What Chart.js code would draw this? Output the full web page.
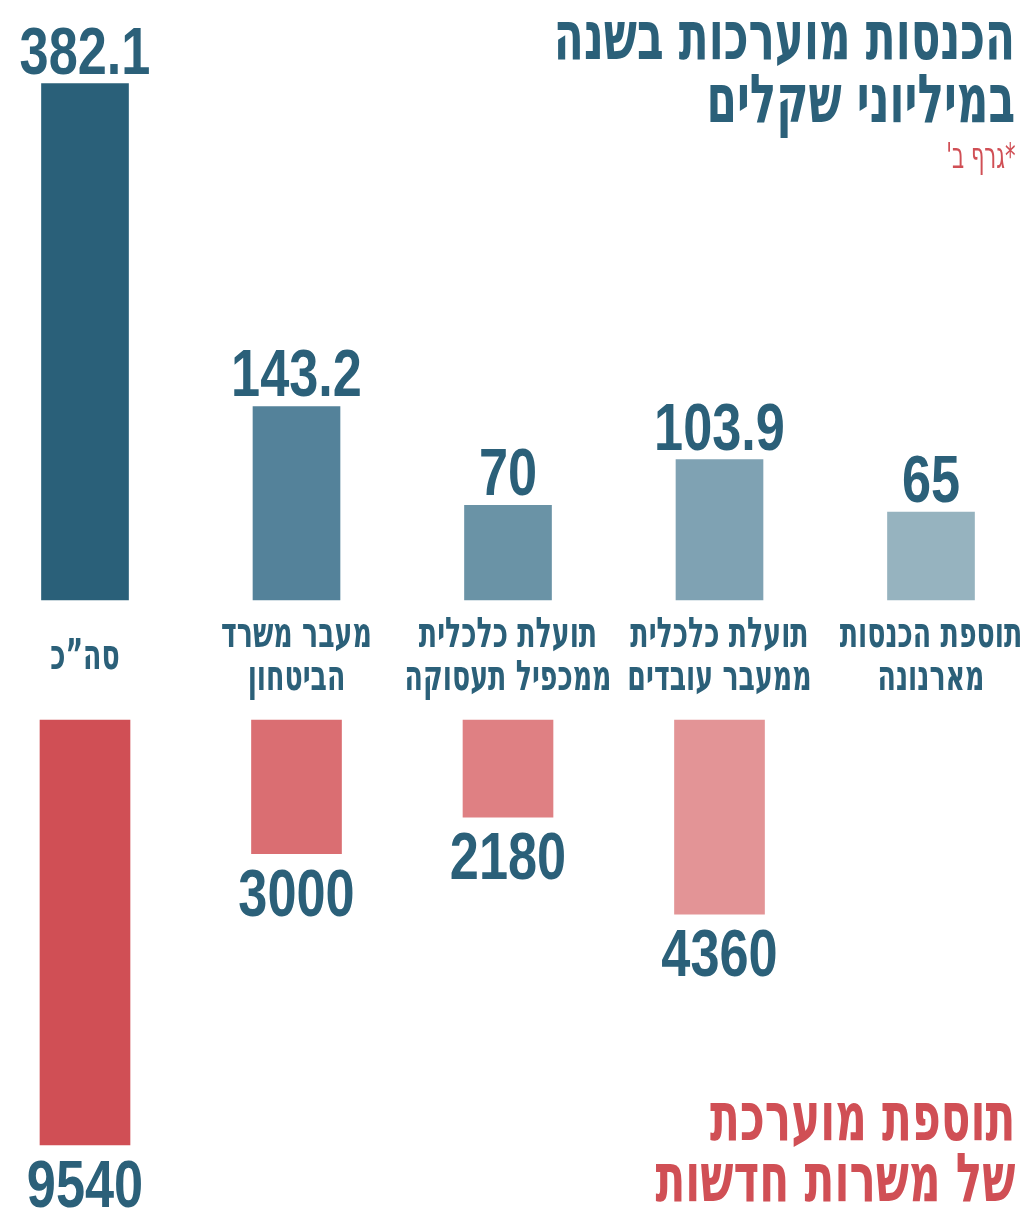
<!DOCTYPE html>
<html lang="he">
<head>
<meta charset="utf-8">
<script src="https://cdn.jsdelivr.net/npm/chart.js@4.4.1/dist/chart.umd.min.js"></script>
<style>
  body { margin: 0; background: #fff; width: 1020px; height: 1209px; overflow: hidden; position: relative; }
  #wrapTop { position: absolute; left: 0; top: 0; width: 1020px; height: 700px; }
  #wrapBottom { position: absolute; left: 0; top: 700px; width: 1020px; height: 510px; }
  .titulo { position: absolute; right: 5px; direction: rtl; text-align: right; font-family: "DejaVu Sans Condensed", "DejaVu Sans", sans-serif;
            font-weight: bold; transform: scaleX(0.715); transform-origin: right top; white-space: nowrap; }
</style>
</head>
<body>
<div id="wrapTop"><canvas id="chartIngresos"></canvas></div>
<div id="wrapBottom"><canvas id="chartEmpleos"></canvas></div>

<div class="titulo" style="top:4px; font-size:68px; line-height:63px; color:#2b6079;">הכנסות מוערכות בשנה<br>במיליוני שקלים</div>
<div class="titulo" style="top:136px; font-size:36px; line-height:40px; font-weight:normal; color:#d04f55; transform:scaleX(0.65);">*גרף ב'</div>
<div class="titulo" style="top:1086px; font-size:68px; line-height:61px; color:#d04f55;">תוספת מוערכת<br>של משרות חדשות</div>

<script>
const categorias = [
    ['סה”כ'],
    ['מעבר משרד', 'הביטחון'],
    ['תועלת כלכלית', 'ממכפיל תעסוקה'],
    ['תועלת כלכלית', 'ממעבר עובדים'],
    ['תוספת הכנסות', 'מארנונה']
];
const ingresos = [382.1, 143.2, 70, 103.9, 65];
const empleos = [9540, 3000, 2180, 4360, null];

const coloresAzul = ['#2a6079', '#54829a', '#6a93a6', '#7fa2b3', '#96b3bf'];
const coloresRojo = ['#d04f55', '#da6e72', '#df8083', '#e39496', '#ffffff'];
const azulTexto = '#2b6079';
const FUENTE_NUM = '"Liberation Sans", "DejaVu Sans", sans-serif';
const FUENTE_HEB = '"DejaVu Sans Condensed", "DejaVu Sans", sans-serif';

// texto angosto: se dibuja comprimido horizontalmente
function textoAngosto(ctx, txt, x, y, font, escala) {
    ctx.save();
    ctx.font = font;
    ctx.fillStyle = azulTexto;
    ctx.textAlign = 'center';
    ctx.translate(x, y);
    ctx.scale(escala, 1);
    ctx.fillText(txt, 0, 0);
    ctx.restore();
}

const etiquetasValor = {
    id: 'etiquetasValor',
    afterDatasetsDraw(chart, args, opts) {
        const ctx = chart.ctx;
        const meta = chart.getDatasetMeta(0);
        const datos = chart.data.datasets[0].data;
        const f = 'bold 67px ' + FUENTE_NUM;
        ctx.save();
        ctx.direction = 'ltr';
        meta.data.forEach((bar, i) => {
            if (datos[i] == null) return;
            if (opts.abajo) {
                ctx.textBaseline = 'top';
                textoAngosto(ctx, String(datos[i]), bar.x, bar.y + 10, f, 0.78);
            } else {
                ctx.textBaseline = 'alphabetic';
                textoAngosto(ctx, String(datos[i]), bar.x, bar.y - 10, f, 0.78);
            }
        });
        ctx.restore();
    }
};

const etiquetasCategoria = {
    id: 'etiquetasCategoria',
    afterDraw(chart, args, opts) {
        if (!opts.mostrar) return;
        const ctx = chart.ctx;
        const x = chart.scales.x;
        const f = 'bold 42px ' + FUENTE_HEB;
        ctx.save();
        ctx.direction = 'rtl';
        ctx.textBaseline = 'alphabetic';
        categorias.forEach((lineas, i) => {
            const cx = x.getPixelForValue(i);
            if (lineas.length === 1) {
                textoAngosto(ctx, lineas[0], cx, 669, f, 0.71);
            } else {
                textoAngosto(ctx, lineas[0], cx, 647, f, 0.71);
                textoAngosto(ctx, lineas[1], cx, 690, f, 0.71);
            }
        });
        ctx.restore();
    }
};

function opcionesBase(max, invertido, padding, mostrarCat, abajo) {
    return {
        responsive: true,
        maintainAspectRatio: false,
        animation: false,
        layout: { padding: padding },
        plugins: {
            legend: { display: false },
            tooltip: { enabled: false },
            etiquetasValor: { abajo: abajo },
            etiquetasCategoria: { mostrar: mostrarCat }
        },
        scales: {
            x: { display: false, offset: false },
            y: { display: false, min: 0, max: max, reverse: invertido }
        }
    };
}

// 1. Ingresos (barras hacia arriba)
new Chart(document.getElementById('chartIngresos'), {
    type: 'bar',
    data: {
        labels: categorias,
        datasets: [{ data: ingresos, backgroundColor: coloresAzul, barThickness: 87, clip: false }]
    },
    options: opcionesBase(444, false, { left: 85, right: 89, top: 0, bottom: 100 }, true, false),
    plugins: [etiquetasValor, etiquetasCategoria]
});

// 2. Empleos (barras hacia abajo)
new Chart(document.getElementById('chartEmpleos'), {
    type: 'bar',
    data: {
        labels: categorias,
        datasets: [{ data: empleos, backgroundColor: coloresRojo, barThickness: 90, clip: false }]
    },
    options: opcionesBase(11000, true, { left: 85, right: 89, top: 20, bottom: 0 }, false, true),
    plugins: [etiquetasValor, etiquetasCategoria]
});
</script>
</body>
</html>
